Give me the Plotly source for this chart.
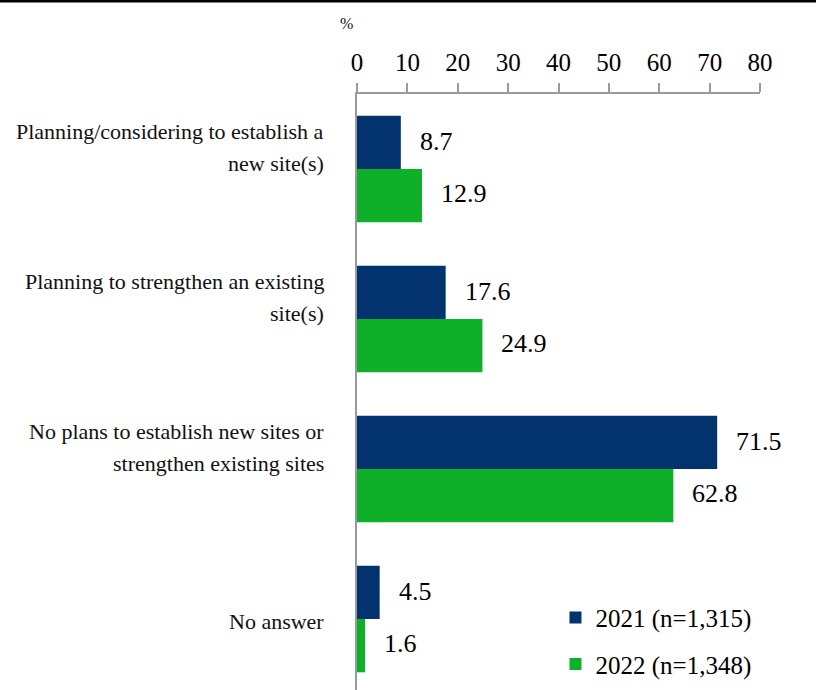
import plotly.graph_objects as go

# Survey categories (line breaks mark where each label wraps)
categories = [
    "Planning/considering to establish a<br>new site(s)",
    "Planning to strengthen an existing<br>site(s)",
    "No plans to establish new sites or<br>strengthen existing sites",
    "No answer",
]
series_names = ["2021 (n=1,315)", "2022 (n=1,348)"]
values_2021 = [8.7, 17.6, 71.5, 4.5]
values_2022 = [12.9, 24.9, 62.8, 1.6]
x_ticks = [0, 10, 20, 30, 40, 50, 60, 70, 80]

NAVY = "#02336F"
GREEN = "#0EB02A"
FONT = "'Liberation Serif', 'Times New Roman', Times, serif"

fig = go.Figure()
for name, vals, color in [(series_names[0], values_2021, NAVY),
                          (series_names[1], values_2022, GREEN)]:
    fig.add_trace(go.Bar(
        y=list(range(len(categories))), x=vals, orientation="h",
        name=name, marker=dict(color=color, line=dict(width=0)),
        legendgroup=name,
    ))

# Value labels to the right of each bar
for vals, shift in [(values_2021, 26), (values_2022, -26)]:
    for i, v in enumerate(vals):
        fig.add_annotation(
            x=v, y=i, xref="x", yref="y", text=f"{v:.1f}",
            showarrow=False, xanchor="left", yanchor="middle",
            xshift=17, yshift=shift + 2,
            font=dict(family=FONT, size=26, color="#000000"),
        )

# Category labels, right-aligned at the left of the axis
for i, label in enumerate(categories):
    lines = label.split("<br>")
    n = len(lines)
    for j, line in enumerate(lines):
        if n == 1:
            ys = -2
        else:
            ys = 38 - j * 32
        fig.add_annotation(
            x=-0.076, y=i, xref="paper", yref="y", text=line,
            showarrow=False, xanchor="right", yanchor="middle",
            yshift=ys, font=dict(family=FONT, size=22, color="#111111"),
        )

# Unit label above the axis
fig.add_annotation(
    x=-0.025, y=1.118, xref="paper", yref="paper", text="%",
    showarrow=False, xanchor="center", yanchor="middle",
    font=dict(family=FONT, size=16, color="#111111"),
)

# Rule across the top of the page
fig.add_shape(
    type="line", xref="paper", yref="paper",
    x0=-0.9, x1=1.2, y0=1.1560, y1=1.1560,
    line=dict(color="#000000", width=3),
)

fig.update_layout(
    width=816, height=690,
    margin=dict(l=357, r=56, t=94, b=0),
    paper_bgcolor="white", plot_bgcolor="white",
    barmode="group", bargap=0.29, bargroupgap=0,
    font=dict(family=FONT, color="#000000"),
    showlegend=True,
    legend=dict(
        x=0.4925, y=0.16, xanchor="left", yanchor="top",
        font=dict(family=FONT, size=25, color="#000000"),
        bgcolor="rgba(0,0,0,0)", itemwidth=30,
        tracegroupgap=11, traceorder="grouped",
    ),
)
fig.update_xaxes(
    side="top", range=[0, 80], tickvals=x_ticks,
    showgrid=False, zeroline=False,
    showline=True, linecolor="#9A9A9A", linewidth=1.5,
    ticks="outside", ticklen=9, tickcolor="#9A9A9A", tickwidth=1.5,
    tickfont=dict(family=FONT, size=25, color="#000000"),
    ticklabelstandoff=2,
)
fig.update_yaxes(
    range=[3.473, -0.5], showticklabels=False, showgrid=False,
    zeroline=False, showline=True, linecolor="#9A9A9A", linewidth=1.5,
    ticks="",
)

fig.write_html("out.html")
